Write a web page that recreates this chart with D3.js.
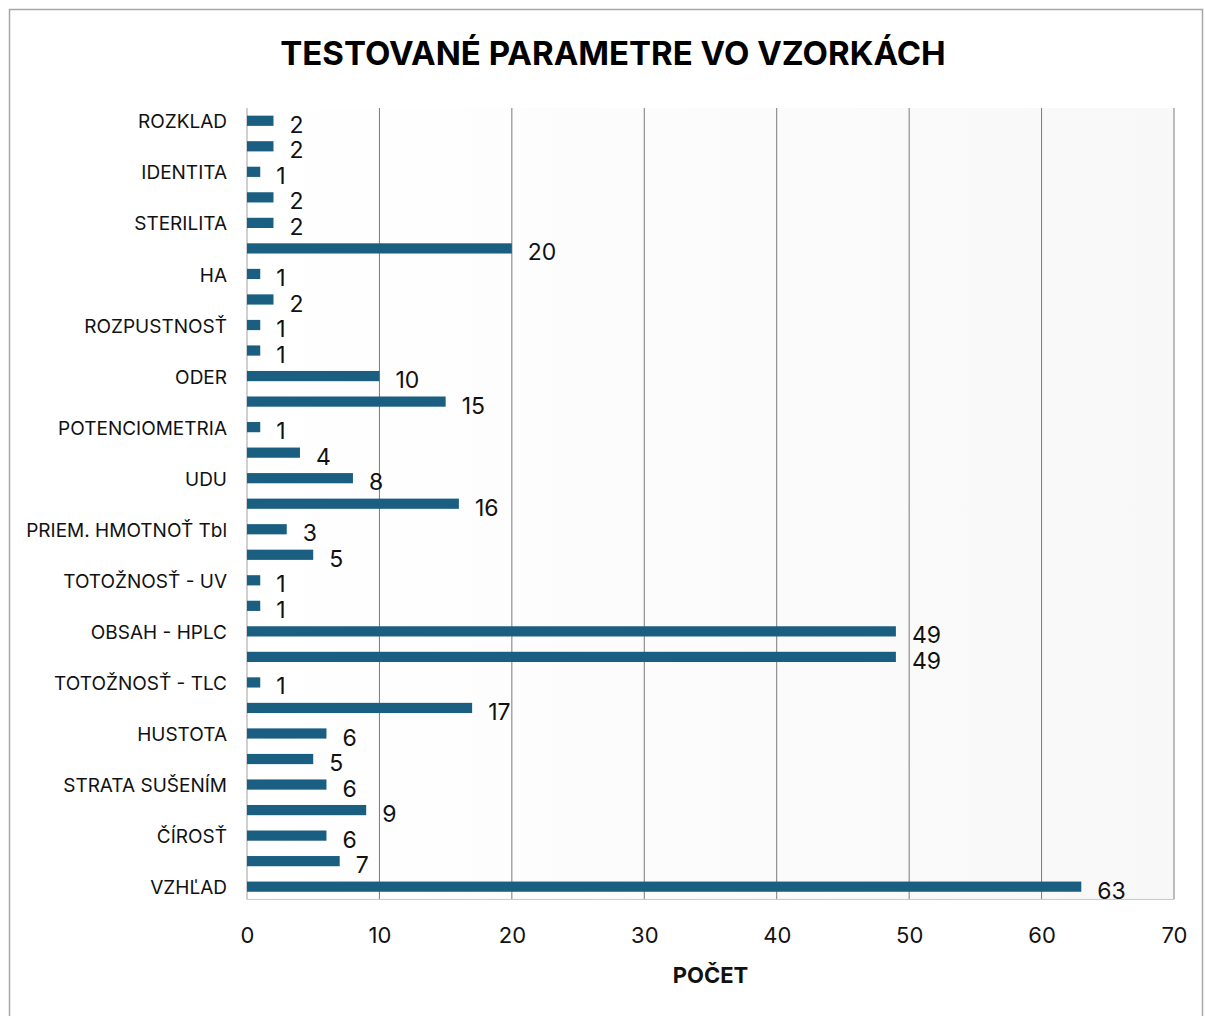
<!DOCTYPE html>
<html>
<head>
<meta charset="utf-8">
<script src="https://cdn.jsdelivr.net/npm/d3@7"></script>
<style>
  body { margin: 0; background: #fff; }
  text { font-family: Inter, "Liberation Sans", sans-serif; }
</style>
</head>
<body>
<div id="container"></div>
<script>
// CONSTANTS AND GLOBALS
const width = 1205,
  height = 1016,
  margin = { top: 108, bottom: 116, left: 247, right: 31 };

// DATA (top to bottom; every other category label is hidden in the chart)
const categories = [
  "ROZKLAD", "", "IDENTITA", "", "STERILITA", "", "HA", "", "ROZPUSTNOSŤ", "",
  "ODER", "", "POTENCIOMETRIA", "", "UDU", "", "PRIEM. HMOTNOŤ Tbl", "",
  "TOTOŽNOSŤ - UV", "", "OBSAH - HPLC", "", "TOTOŽNOSŤ - TLC", "", "HUSTOTA", "",
  "STRATA SUŠENÍM", "", "ČÍROSŤ", "", "VZHĽAD"
];
const counts = [
  2, 2, 1, 2, 2, 20, 1, 2, 1, 1,
  10, 15, 1, 4, 8, 16, 3, 5, 1, 1,
  49, 49, 1, 17, 6, 5, 6, 9, 6, 7, 63
];
const xTicks = [0, 10, 20, 30, 40, 50, 60, 70];

const data = categories.map((c, i) => ({ i, label: c, value: counts[i] }));

// CREATE SVG ELEMENT
const svg = d3.select("#container")
  .append("svg")
  .attr("width", width)
  .attr("height", height);

// outer frame
svg.append("rect")
  .attr("x", 9.5).attr("y", 9.5)
  .attr("width", 1193).attr("height", 1020)
  .attr("fill", "#fff")
  .attr("stroke", "#a6a6a6")
  .attr("stroke-width", 1.5);

// SCALES
const xScale = d3.scaleLinear()
  .domain([0, 70])
  .range([margin.left, width - margin.right]);

const yScale = d3.scaleBand()
  .domain(data.map(d => d.i))
  .range([margin.top, margin.top + 31 * 25.53])
  .paddingInner(0.6)
  .paddingOuter(0.3);

const plotBottom = margin.top + 31 * 25.53;

// plot background with soft gradient
const defs = svg.append("defs");
const grad = defs.append("linearGradient")
  .attr("id", "bg")
  .attr("x1", "0").attr("x2", "1").attr("y1", "0").attr("y2", "0");
grad.append("stop").attr("offset", "0%").attr("stop-color", "#ffffff");
grad.append("stop").attr("offset", "100%").attr("stop-color", "#f8f8f8");

svg.append("rect")
  .attr("x", xScale(0))
  .attr("y", margin.top)
  .attr("width", xScale(70) - xScale(0))
  .attr("height", plotBottom - margin.top)
  .attr("fill", "url(#bg)");

// gridlines
svg.append("g")
  .selectAll("line")
  .data(xTicks.slice(1))
  .join("line")
  .attr("x1", d => xScale(d)).attr("x2", d => xScale(d))
  .attr("y1", margin.top).attr("y2", plotBottom)
  .attr("stroke", "#7a7a7a")
  .attr("stroke-width", 1);

// baseline axes lines
svg.append("line")
  .attr("x1", xScale(0)).attr("x2", xScale(0))
  .attr("y1", margin.top).attr("y2", plotBottom)
  .attr("stroke", "#a0a0a0");
svg.append("line")
  .attr("x1", xScale(0)).attr("x2", xScale(70))
  .attr("y1", plotBottom).attr("y2", plotBottom)
  .attr("stroke", "#c8c8c8");

// BUILD AND CALL AXES
const yAxis = d3.axisLeft(yScale)
  .tickSize(0)
  .tickPadding(20)
  .tickFormat(i => categories[i]);

const yAxisGroup = svg.append("g")
  .attr("class", "yAxis")
  .attr("transform", `translate(${xScale(0)}, 0)`)
  .call(yAxis);
yAxisGroup.select(".domain").remove();
yAxisGroup.selectAll("text")
  .attr("font-size", 19)
  .attr("fill", "#111")
  .attr("dy", "0.4em");

const xAxis = d3.axisBottom(xScale)
  .tickValues(xTicks)
  .tickSize(0)
  .tickPadding(28);

const xAxisGroup = svg.append("g")
  .attr("class", "xAxis")
  .attr("transform", `translate(0, ${plotBottom})`)
  .call(xAxis);
xAxisGroup.select(".domain").remove();
xAxisGroup.selectAll("text")
  .attr("font-size", 22)
  .attr("fill", "#111");

// BARS
svg.append("g")
  .selectAll("rect")
  .data(data)
  .join("rect")
  .attr("x", xScale(0))
  .attr("y", d => yScale(d.i))
  .attr("width", d => xScale(d.value) - xScale(0))
  .attr("height", yScale.bandwidth())
  .attr("fill", "#1a5f82");

// DATA LABELS
svg.append("g")
  .selectAll("text")
  .data(data)
  .join("text")
  .attr("x", d => xScale(d.value) + 16)
  .attr("y", d => yScale(d.i) + yScale.bandwidth() / 2 + 4)
  .attr("dy", "0.35em")
  .attr("font-size", 23)
  .attr("fill", "#111")
  .text(d => d.value);

// TITLES
svg.append("text")
  .attr("x", 613)
  .attr("y", 65)
  .attr("text-anchor", "middle")
  .attr("font-size", 33)
  .attr("font-weight", "bold")
  .attr("fill", "#000")
  .text("TESTOVANÉ PARAMETRE VO VZORKÁCH");

svg.append("text")
  .attr("x", (xScale(0) + xScale(70)) / 2)
  .attr("y", 983)
  .attr("text-anchor", "middle")
  .attr("font-size", 22)
  .attr("font-weight", "bold")
  .attr("fill", "#111")
  .text("POČET");
</script>
</body>
</html>
